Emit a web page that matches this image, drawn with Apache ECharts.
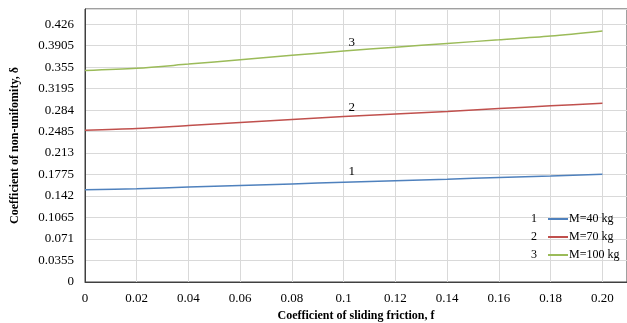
<!DOCTYPE html>
<html>
<head>
<meta charset="utf-8">
<script src="https://cdn.jsdelivr.net/npm/echarts@6/dist/echarts.min.js"></script>
<style>html,body{margin:0;padding:0;background:#fff;}#c{width:627px;height:323px;}</style>
</head>
<body>
<div id="c"></div>
<script>
var fValues = [0, 0.02, 0.04, 0.06, 0.08, 0.10, 0.12, 0.14, 0.16, 0.18, 0.20];
var m40  = [0.1524, 0.1541, 0.1569, 0.1593, 0.1620, 0.1647, 0.1673, 0.1698, 0.1726, 0.1751, 0.1779];
var m70  = [0.2507, 0.2534, 0.2584, 0.2635, 0.2686, 0.2733, 0.2777, 0.2818, 0.2865, 0.2910, 0.2954];
var m100 = [0.3494, 0.3530, 0.3600, 0.3672, 0.3745, 0.3815, 0.3879, 0.3942, 0.4000, 0.4062, 0.4146];
var seriesNames = ['M=40 kg', 'M=70 kg', 'M=100 kg'];
var seriesNumbers = ['1', '2', '3'];
var seriesColors = ['#4F81BD', '#C0504D', '#9BBB59'];
var xTickLabels = ['0', '0.02', '0.04', '0.06', '0.08', '0.1', '0.12', '0.14', '0.16', '0.18', '0.20'];
var yTickLabels = ['0', '0.0355', '0.071', '0.1065', '0.142', '0.1775', '0.213', '0.2485', '0.284', '0.3195', '0.355', '0.3905', '0.426'];
var labelAtF = 0.10;

var font = 'Liberation Serif, Times New Roman, serif';
var allData = [m40, m70, m100];

function pairs(arr) { return fValues.map(function (f, i) { return [f, arr[i]]; }); }

var series = allData.map(function (arr, k) {
  var idx = fValues.indexOf(labelAtF);
  return {
    name: seriesNames[k],
    type: 'line',
    data: pairs(arr),
    symbol: 'none',
    smooth: 0.3,
    lineStyle: { color: seriesColors[k], width: 1.5 },
    itemStyle: { color: seriesColors[k] },
    markPoint: {
      symbol: 'circle', symbolSize: 0,
      data: [{ coord: [labelAtF, arr[idx]] }],
      label: { show: true, formatter: seriesNumbers[k], position: 'top', offset: [8, k === 0 ? 1 : 3],
               color: '#000', fontFamily: font, fontSize: 13 }
    }
  };
});

var chart = echarts.init(document.getElementById('c'), null, { renderer: 'canvas' });
chart.setOption({
  animation: false,
  backgroundColor: '#fff',
  grid: { left: 85, right: 0, top: 9, bottom: 41, show: true, borderColor: '#404040', borderWidth: 1,
          containLabel: false, outerBoundsMode: 'none' },
  xAxis: {
    type: 'value', min: 0, max: 0.2095, interval: 0.02,
    name: 'Coefficient of sliding friction, f', nameLocation: 'middle', nameGap: 28,
    nameTextStyle: { fontFamily: font, fontSize: 12, fontWeight: 'bold', color: '#000' },
    axisLine: { lineStyle: { color: '#404040' } },
    axisTick: { show: false },
    splitLine: { lineStyle: { color: '#d9d9d9' } },
    axisLabel: {
      fontFamily: font, fontSize: 13, color: '#000', margin: 10, showMaxLabel: false,
      formatter: function (v) { var i = Math.round(v / 0.02); return Math.abs(v - i * 0.02) < 1e-6 && xTickLabels[i] !== undefined ? xTickLabels[i] : ''; }
    }
  },
  yAxis: {
    type: 'value', min: 0, max: 0.451, interval: 0.0355,
    name: 'Coefficient of non-unifomity, δ', nameLocation: 'middle', nameGap: 64,
    nameTextStyle: { fontFamily: font, fontSize: 12, fontWeight: 'bold', color: '#000' },
    axisLine: { show: true, lineStyle: { color: '#404040' } },
    axisTick: { show: false },
    splitLine: { lineStyle: { color: '#d9d9d9' } },
    axisLabel: {
      fontFamily: font, fontSize: 13, color: '#000', margin: 11, showMaxLabel: false,
      formatter: function (v) { var i = Math.round(v / 0.0355); return Math.abs(v - i * 0.0355) < 1e-6 && yTickLabels[i] !== undefined ? yTickLabels[i] : ''; }
    }
  },
  legend: [
    {
      orient: 'vertical', left: 526, top: 208, align: 'right',
      data: seriesNames, icon: 'rect', itemWidth: 20, itemHeight: 2, itemGap: 6,
      formatter: function (n) { return seriesNumbers[seriesNames.indexOf(n)]; },
      textStyle: { fontFamily: font, fontSize: 12, color: '#000', padding: [0, 6, 0, 0] }
    },
    {
      orient: 'vertical', left: 564, top: 208,
      data: seriesNames, icon: 'rect', itemWidth: 0, itemHeight: 2, itemGap: 6,
      textStyle: { fontFamily: font, fontSize: 12, color: '#000', padding: [0, 0, 0, -5] }
    }
  ],
  series: series
});
</script>
</body>
</html>
